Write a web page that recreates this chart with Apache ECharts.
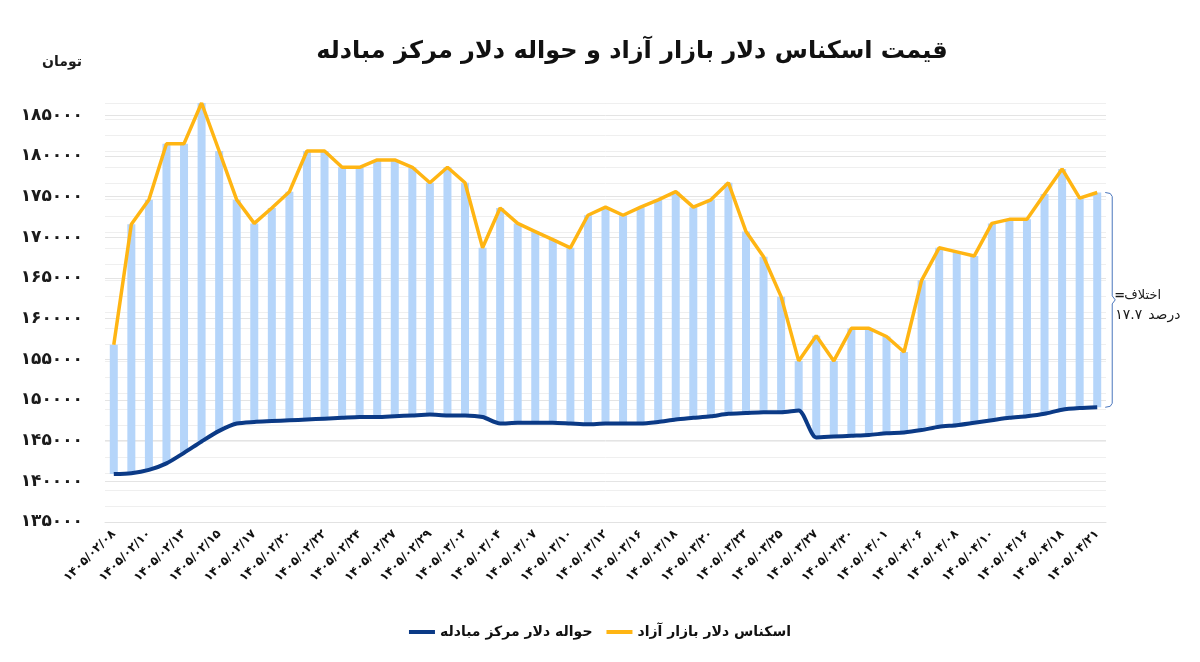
<!DOCTYPE html>
<html>
<head>
<meta charset="utf-8">
<script src="https://cdn.jsdelivr.net/npm/echarts@6/dist/echarts.min.js"></script>
<style>
html,body{margin:0;padding:0;background:#ffffff;}
#chart{width:1200px;height:662px;}
</style>
</head>
<body>
<div id="chart"></div>
<script>
// ---- data ----
const dates = [
  '1405/02/08','1405/02/09','1405/02/10','1405/02/12','1405/02/13','1405/02/14','1405/02/15','1405/02/16',
  '1405/02/17','1405/02/19','1405/02/20','1405/02/21','1405/02/22','1405/02/23','1405/02/24','1405/02/26',
  '1405/02/27','1405/02/28','1405/02/29','1405/02/30','1405/03/02','1405/03/03','1405/03/04','1405/03/06',
  '1405/03/07','1405/03/09','1405/03/10','1405/03/11','1405/03/12','1405/03/13','1405/03/16','1405/03/17',
  '1405/03/18','1405/03/19','1405/03/20','1405/03/21','1405/03/23','1405/03/24','1405/03/25','1405/03/26',
  '1405/03/27','1405/03/28','1405/03/30','1405/03/31','1405/04/01','1405/04/03','1405/04/06','1405/04/07',
  '1405/04/08','1405/04/09','1405/04/10','1405/04/13','1405/04/16','1405/04/17','1405/04/18','1405/04/20',
  '1405/04/21'
];
// اسکناس دلار بازار آزاد (free market cash dollar)
const freeMarket = [
  156800,171600,174600,181500,181500,186500,180600,174600,171700,173600,
  175600,180600,180600,178600,178600,179500,179500,178600,176700,178600,
  176700,168700,173600,171700,170700,169700,168700,172700,173700,172700,
  173700,174600,175600,173700,174600,176700,170700,167600,162700,154800,
  157900,154800,158800,158800,157800,155900,164700,168700,168200,167700,
  171700,172200,172200,175300,178400,174800,175500
];
// حواله دلار مرکز مبادله (exchange center remittance dollar)
const exchangeCenter = [
  140900,141000,141400,142200,143500,144900,146200,147100,147300,147400,
  147500,147600,147700,147800,147900,147900,148000,148100,148200,148100,
  148100,147900,147100,147200,147200,147200,147100,147000,147100,147100,
  147100,147300,147600,147800,148000,148300,148400,148500,148500,148700,
  145400,145500,145600,145700,145900,146000,146300,146700,146900,147200,
  147500,147800,148000,148300,148800,149000,149100
];
const seriesNames = ['حواله دلار مرکز مبادله', 'اسکناس دلار بازار آزاد'];
const yMin = 135000, yMax = 186500, yStep = 5000;
const diffWord = 'اختلاف', diffSign = '=', diffValue = '۱۷.۷', diffUnit = 'درصد';

const FONT = 'DejaVu Sans';
const toFa = s => String(s).replace(/\d/g, d => '۰۱۲۳۴۵۶۷۸۹'[d]);
const gapValues = freeMarket.map((v, i) => v - exchangeCenter[i]);

const chart = echarts.init(document.getElementById('chart'), null, {renderer: 'canvas'});
const option = {
  backgroundColor: '#ffffff',
  animation: false,
  textStyle: {fontFamily: FONT},
  title: {
    text: 'قیمت اسکناس دلار بازار آزاد و حواله دلار مرکز مبادله',
    left: 627, top: 35, textAlign: 'center',
    textStyle: {fontFamily: FONT, fontSize: 24, fontWeight: 'bold', color: '#111'}
  },
  legend: {
    data: seriesNames,
    bottom: 18, left: 'center',
    icon: 'rect', itemWidth: 26, itemHeight: 4, itemGap: 14,
    textStyle: {fontFamily: FONT, fontSize: 14, fontWeight: 'bold', color: '#111'}
  },
  grid: {left: 105, right: 94, top: 103, bottom: 140, containLabel: false},
  xAxis: {
    type: 'category', data: dates, boundaryGap: true,
    axisLine: {show: true, lineStyle: {color: '#e2e2e2'}},
    axisTick: {show: false},
    axisLabel: {
      interval: 1, rotate: 45, margin: 10,
      fontFamily: FONT, fontSize: 12, fontWeight: 'bold', color: '#111',
      formatter: v => toFa(v)
    }
  },
  yAxis: [{
    type: 'value', min: yMin, max: yMax, interval: yStep,
    axisLine: {show: false}, axisTick: {show: false},
    splitLine: {show: true, lineStyle: {color: '#e4e4e4', width: 1}},
    axisLabel: {
      margin: 22, fontFamily: FONT, fontSize: 17, fontWeight: 'bold', color: '#1a1a1a',
      formatter: v => (v % yStep === 0 ? toFa(v) : '')
    }
  }, {
    type: 'value', min: 0, max: 26, interval: 1, position: 'right',
    axisLine: {show: false}, axisTick: {show: false}, axisLabel: {show: false},
    splitLine: {show: true, lineStyle: {color: '#efefef', width: 1}}
  }],
  series: [
    {
      type: 'bar', stack: 'range', data: exchangeCenter, barWidth: 8,
      itemStyle: {color: 'rgba(0,0,0,0)'}, silent: true, z: 1
    },
    {
      type: 'bar', stack: 'range', data: gapValues, barWidth: 8,
      itemStyle: {color: '#b5d5fa'}, z: 1
    },
    {
      name: seriesNames[0], type: 'line', data: exchangeCenter, smooth: 0.25,
      symbol: 'none', clip: false,
      lineStyle: {color: '#0b3a86', width: 4}, itemStyle: {color: '#0b3a86'}, z: 3
    },
    {
      name: seriesNames[1], type: 'line', data: freeMarket, smooth: false,
      symbol: 'none', clip: false,
      lineStyle: {color: '#ffb513', width: 3.5}, itemStyle: {color: '#ffb513'}, z: 4
    }
  ]
};
chart.setOption(option);

// annotation bracket anchored to last data point
const last = dates.length - 1;
const pT = chart.convertToPixel({xAxisIndex: 0, yAxisIndex: 0}, [last, freeMarket[last]]);
const pB = chart.convertToPixel({xAxisIndex: 0, yAxisIndex: 0}, [last, exchangeCenter[last]]);
const xb = pT[0] + 15, yT = pT[1], yB = pB[1], yM = (yT + yB) / 2;
const txt = (x, y, s, font, align) => ({
  type: 'text', x: x, y: y, silent: true,
  style: {text: s, font: font, fill: '#1a1a1a', textAlign: align || 'left', textVerticalAlign: 'middle'}
});
chart.setOption({
  graphic: [
    {
      type: 'polyline', silent: true,
      shape: {points: [[xb - 7, yT], [xb - 2, yT + 1], [xb, yT + 4], [xb, yM - 4], [xb + 3, yM],
                       [xb, yM + 4], [xb, yB - 4], [xb - 2, yB - 1], [xb - 7, yB]]},
      style: {stroke: '#4a76bd', lineWidth: 1, fill: null}
    },
    txt(xb + 2, yM - 4, diffSign, 'bold 13px "DejaVu Sans"'),
    txt(xb + 12, yM - 4, diffWord, '13px "DejaVu Sans"'),
    txt(xb + 3, yM + 15, diffValue, '14px "DejaVu Sans"'),
    txt(xb + 36, yM + 15, diffUnit, '14px "DejaVu Sans"'),
    txt(82, 62, 'تومان', 'bold 14px "DejaVu Sans"', 'right')
  ]
});
</script>
</body>
</html>
